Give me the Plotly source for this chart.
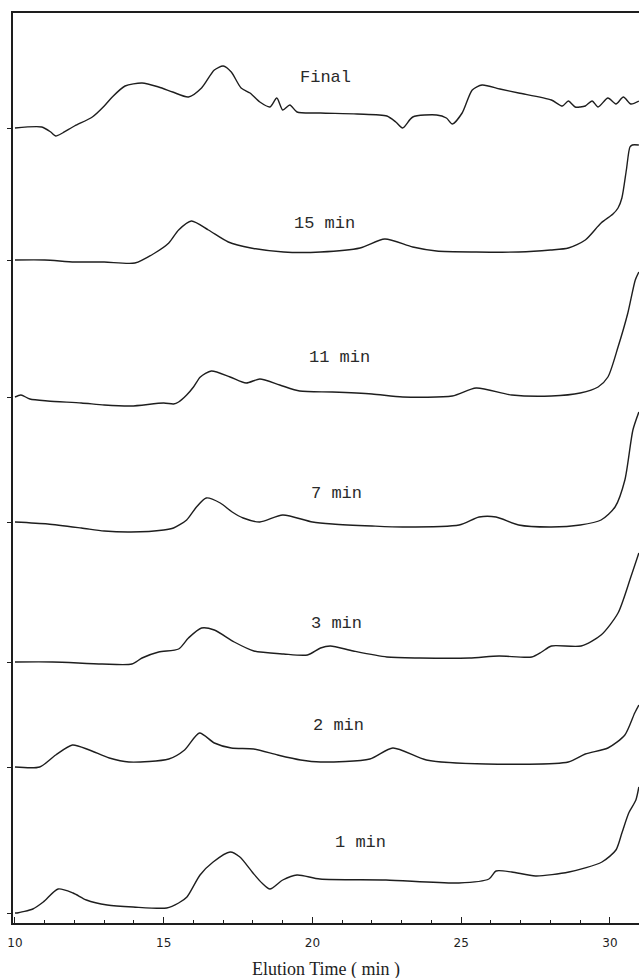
import plotly.graph_objects as go

# ---------------- data (signal height above each trace's own baseline, arbitrary units) ----------------
run_names = ["Final", "15 min", "11 min", "7 min", "3 min", "2 min", "1 min"]
baseline_offsets = [795, 663, 526, 401, 261, 156, 10]

final_t = [10.0, 10.9, 11.2, 11.37, 11.6, 12.0, 12.6, 13.0, 13.27, 13.7, 14.27, 14.83, 15.3, 15.83, 16.27,
           16.7, 17.0, 17.27, 17.6, 17.9, 18.23, 18.57, 18.8, 19.0, 19.24, 19.48, 20.27, 21.5, 22.5, 22.8,
           23.03, 23.37, 24.17, 24.5, 24.7, 25.03, 25.37, 25.7, 26.3, 26.93, 28.03, 28.4, 28.6, 28.83, 29.0,
           29.17, 29.4, 29.6, 29.93, 30.2, 30.45, 30.7, 30.97]
final_v = [0, 1, -4, -8, -5, 2, 11, 22, 31, 42, 45, 41, 36, 31, 40,
           58, 62, 56, 40, 35, 26, 21, 30, 18, 23, 16, 15, 14, 12, 6,
           0, 11, 13, 10, 4, 15, 38, 43, 39, 35, 28, 22, 27, 21, 21,
           22, 27, 21, 30, 24, 31, 24, 27]

m15_t = [10.0, 11.0, 12.0, 13.0, 14.03, 14.7, 15.17, 15.5, 15.93, 16.5, 17.17, 17.93, 19.03, 20.27, 21.6,
         22.43, 23.37, 24.17, 25.5, 26.93, 28.0, 28.6, 29.17, 29.7, 30.1, 30.27, 30.4, 30.55, 30.67, 30.75, 30.97]
m15_v = [0, 0, -2, -2, -3, 7, 17, 30, 39, 30, 18, 12, 8, 8, 12,
         21, 13, 9, 8, 8, 10, 12, 20, 37, 46, 52, 62, 90, 113, 115, 115]

m11_t = [10.0, 10.2, 10.5, 11.1, 12.23, 13.0, 13.9, 15.0, 15.33, 15.5, 15.77, 16.0, 16.23, 16.6, 17.23,
         17.77, 18.23, 18.9, 19.57, 20.67, 22.0, 23.03, 24.7, 25.5, 26.7, 28.03, 29.0, 29.6, 29.93, 30.27,
         30.6, 30.85, 30.97]
m11_v = [0, 2, -2, -4, -6, -8, -9, -6, -7, -5, 2, 10, 20, 26, 20,
         14, 18, 12, 6, 5, 3, 0, 1, 9, 2, 1, 4, 10, 20, 50,
         84, 117, 125]

m7_t = [10.0, 11.1, 12.23, 13.0, 13.9, 15.0, 15.33, 15.77, 16.1, 16.43, 16.9, 17.3, 17.67, 18.23, 19.0,
        20.0, 20.67, 22.0, 23.03, 24.93, 25.6, 26.17, 26.93, 28.03, 29.0, 29.7, 30.17, 30.5, 30.77, 30.97]
m7_v = [0, -2, -6, -9, -10, -8, -6, 2, 15, 24, 19, 10, 4, 0, 7,
        0, -2, -4, -5, -3, 5, 5, -3, -5, -3, 2, 15, 42, 92, 110]

m3_t = [10.0, 11.27, 12.93, 13.93, 14.27, 14.83, 15.5, 15.83, 16.27, 16.7, 17.37, 18.03, 19.03, 19.83,
        20.27, 20.6, 21.37, 22.5, 23.6, 25.27, 26.27, 27.37, 27.7, 28.03, 29.03, 29.7, 30.27, 30.7, 30.97]
m3_v = [0, 0, -2, -2, 4, 10, 13, 24, 34, 32, 20, 11, 8, 7,
        14, 16, 11, 5, 4, 4, 6, 5, 10, 16, 16, 27, 49, 85, 109]

m2_t = [10.0, 10.83, 11.37, 11.93, 12.5, 13.17, 13.83, 15.17, 15.7, 16.2, 16.7, 17.27, 18.03, 18.83, 19.6,
        20.27, 21.93, 22.7, 23.83, 25.83, 28.6, 29.17, 29.93, 30.5, 30.83, 30.97]
m2_v = [0, 0, 12, 22, 17, 9, 5, 8, 17, 34, 24, 19, 18, 12, 7,
        5, 8, 19, 7, 3, 5, 13, 19, 32, 54, 62]

m1_t = [10.0, 10.07, 10.6, 10.95, 11.45, 11.95, 12.4, 13.1, 13.97, 15.1, 15.5, 15.78, 16.22, 16.66, 17.23,
        17.56, 18.0, 18.3, 18.57, 19.0, 19.48, 20.25, 22.47, 24.92, 25.93, 26.17, 26.7, 27.5, 28.62, 29.73,
        30.2, 30.4, 30.63, 30.87, 30.97]
m1_v = [0, 0, 4, 11, 24, 20, 13, 8, 6, 5, 10, 16, 38, 51, 61,
        56, 40, 30, 24, 33, 38, 34, 33, 30, 34, 42, 41, 37, 41, 51,
        63, 80, 100, 113, 126]

series_t = [final_t, m15_t, m11_t, m7_t, m3_t, m2_t, m1_t]
series_v = [final_v, m15_v, m11_v, m7_v, m3_v, m2_v, m1_v]

x_ticks = [10, 15, 20, 25, 30]
x_tick_labels = ["10", "15", "20", "25", "30"]
x_title = "Elution Time ( min )"

# ---------------- layout helpers (positions, not data) ----------------
label_pos = [(20.45, 846), (20.39, 700), (20.92, 566), (20.82, 430), (20.79, 300), (20.86, 198), (21.6, 81)]

fig = go.Figure()
for name, t, v, off in zip(run_names, series_t, series_v, baseline_offsets):
    fig.add_trace(go.Scatter(
        x=t, y=[off + val for val in v], mode="lines", name=name,
        line=dict(color="#1e1e1e", width=1.4, shape="spline", smoothing=0.7),
        showlegend=False, hoverinfo="skip"))

annotations = []
for name, (lx, ly) in zip(run_names, label_pos):
    annotations.append(dict(x=lx, y=ly, xref="x", yref="y", text=name, showarrow=False,
                            font=dict(family="Liberation Mono", size=17, color="#2a2a2a"),
                            xanchor="center", yanchor="middle"))
annotations.append(dict(x=0.5, y=-0.0516, xref="paper", yref="paper", text=x_title, showarrow=False,
                        font=dict(family="Liberation Serif", size=18, color="#1e1e1e"),
                        xanchor="center", yanchor="middle"))

fig.update_layout(
    width=639, height=978,
    margin=dict(l=13, r=0, t=13, b=55),
    paper_bgcolor="white", plot_bgcolor="white",
    annotations=annotations,
    xaxis=dict(range=[9.933, 30.975], showgrid=False, zeroline=False,
               showline=True, linecolor="#1e1e1e", linewidth=1.6, mirror=True,
               ticks="inside", ticklen=6, tickwidth=1.2, tickcolor="#1e1e1e",
               tickvals=x_ticks, ticktext=x_tick_labels, ticklabelstandoff=8,
               tickfont=dict(family="DejaVu Sans", size=12, color="#1e1e1e"),
               minor=dict(dtick=1, ticks="inside", ticklen=3, tickcolor="#1e1e1e", showgrid=False)),
    yaxis=dict(range=[0, 910], showgrid=False, zeroline=False,
               showline=True, linecolor="#1e1e1e", linewidth=1.6,
               ticks="outside", ticklen=4, tickcolor="#1e1e1e",
               tickvals=baseline_offsets, showticklabels=False),
)

fig.write_html("out.html")
